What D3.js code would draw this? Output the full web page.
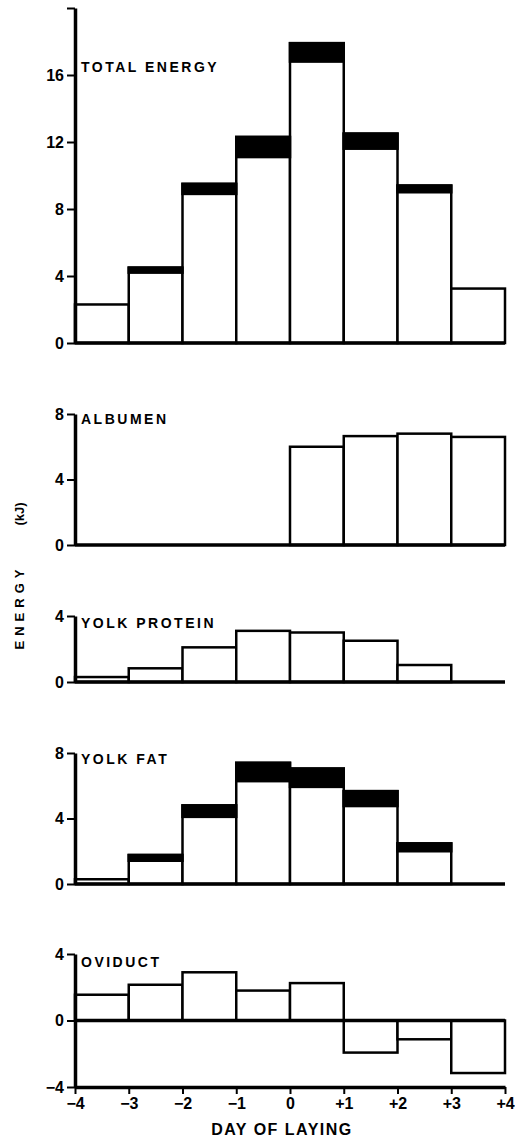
<!DOCTYPE html>
<html>
<head>
<meta charset="utf-8">
<script src="https://cdn.jsdelivr.net/npm/d3@7"></script>
<style>
  body { margin: 0; background: #fff; }
  text { font-family: "Liberation Sans", Arial, sans-serif; font-weight: bold; fill: #000; }
  .tick text { font-size: 16px; }
  .panel-title { font-size: 14px; letter-spacing: 2.5px; }
</style>
</head>
<body>
<div id="chart"></div>
<script>
// day bins, -4..+4 (bar i spans days[i] .. days[i+1])
var days = [-4, -3, -2, -1, 0, 1, 2, 3, 4]

// total energy: open part and black cap on top (kJ)
var totalOpen = [2.3, 4.2, 8.9, 11.1, 16.8, 11.6, 9.0, 3.25]
var totalCap = [0, 0.3, 0.6, 1.2, 1.1, 0.9, 0.4, 0]

var albumen = [0, 0, 0, 0, 6.0, 6.65, 6.8, 6.6]
var yolkProtein = [0.3, 0.83, 2.1, 3.1, 3.0, 2.5, 1.03, 0]

var yolkFatOpen = [0.29, 1.42, 4.1, 6.28, 5.93, 4.76, 2.0, 0]
var yolkFatCap = [0, 0.35, 0.7, 1.12, 1.12, 0.91, 0.48, 0]

var oviduct = [1.55, 2.15, 2.9, 1.8, 2.25, -1.93, -1.13, -3.16]

// panel layout
var panels = [
  {title: "TOTAL ENERGY", open: totalOpen, cap: totalCap, domain: [0, 20], range: [343, 8], ticks: [0, 4, 8, 12, 16, 20], titleY: 72},
  {title: "ALBUMEN", open: albumen, cap: null, domain: [0, 8], range: [545, 414], ticks: [0, 4, 8], titleY: 424},
  {title: "YOLK PROTEIN", open: yolkProtein, cap: null, domain: [0, 4], range: [682, 616], ticks: [0, 4], titleY: 628},
  {title: "YOLK FAT", open: yolkFatOpen, cap: yolkFatCap, domain: [0, 8], range: [884, 753], ticks: [0, 4, 8], titleY: 764},
  {title: "OVIDUCT", open: oviduct, cap: null, domain: [-4, 4], range: [1087, 954], ticks: [-4, 0, 4], titleY: 967}
]

var width = 515, height = 1139
var svg = d3.select("#chart").append("svg")
    .attr("width", width)
    .attr("height", height)

var x = d3.scaleLinear().domain([-4, 4]).range([75, 505])
var minus = "\u2212"

panels.forEach(function(p, pi){
  var y = d3.scaleLinear().domain(p.domain).range(p.range)
  var g = svg.append("g").attr("class", "panel")

  // build bar records
  var bars = p.open.map(function(v, i){
    return {
      x0: days[i], x1: days[i + 1],
      open: v,
      total: v + (p.cap ? p.cap[i] : 0)
    }
  }).filter(function(d){ return d.total !== 0 })

  // outlined bars
  g.selectAll(".bar")
      .data(bars)
    .enter().append("rect")
      .attr("class", "bar")
      .attr("x", function(d){ return x(d.x0) })
      .attr("width", function(d){ return x(d.x1) - x(d.x0) })
      .attr("y", function(d){ return Math.min(y(d.total), y(0)) })
      .attr("height", function(d){ return Math.abs(y(0) - y(d.total)) })
      .attr("fill", "#fff")
      .attr("stroke", "#000")
      .attr("stroke-width", 2.5)

  // black caps
  if (p.cap){
    g.selectAll(".cap")
        .data(bars.filter(function(d){ return d.total > d.open }))
      .enter().append("rect")
        .attr("class", "cap")
        .attr("x", function(d){ return x(d.x0) })
        .attr("width", function(d){ return x(d.x1) - x(d.x0) })
        .attr("y", function(d){ return y(d.total) })
        .attr("height", function(d){ return y(d.open) - y(d.total) })
        .attr("fill", "#000")
        .attr("stroke", "#000")
        .attr("stroke-width", 2.5)
  }

  // zero line
  g.append("line")
      .attr("x1", x(-4)).attr("x2", x(4))
      .attr("y1", y(0)).attr("y2", y(0))
      .attr("stroke", "#000")
      .attr("stroke-width", 3.5)

  // y axis
  var yAxis = d3.axisLeft(y)
      .tickValues(p.ticks)
      .tickSize(8)
      .tickSizeOuter(0)
      .tickPadding(3)
      .tickFormat(function(d){
        if (d === 20) return ""
        return d < 0 ? minus + Math.abs(d) : String(d)
      })
  var ya = g.append("g")
      .attr("transform", "translate(" + x(-4) + ",0)")
      .call(yAxis)
  ya.select(".domain").attr("stroke-width", 3.5)
  ya.selectAll(".tick line").attr("stroke-width", 2)
  ya.attr("font-family", null).attr("font-size", null)

  // panel title
  g.append("text")
      .attr("class", "panel-title")
      .attr("x", x(-4) + 6)
      .attr("y", p.titleY)
      .text(p.title)

  // bottom axis for the last panel
  if (pi === panels.length - 1){
    var xAxis = d3.axisBottom(x)
        .tickValues(days)
        .tickSize(7)
        .tickSizeOuter(0)
        .tickPadding(4)
        .tickFormat(function(d){
          if (d > 0) return "+" + d
          if (d < 0) return minus + Math.abs(d)
          return "0"
        })
    var xa = g.append("g")
        .attr("transform", "translate(0," + y(-4) + ")")
        .call(xAxis)
    xa.select(".domain").attr("stroke-width", 3.5)
    xa.selectAll(".tick line").attr("stroke-width", 2)
    xa.attr("font-family", null).attr("font-size", null)

    svg.append("text")
        .attr("x", 282)
        .attr("y", 1135)
        .attr("text-anchor", "middle")
        .style("font-size", "16px")
        .style("letter-spacing", "1.5px")
        .text("DAY OF LAYING")
  }
})

// shared y label
svg.append("text")
    .attr("transform", "translate(24,607) rotate(-90)")
    .attr("text-anchor", "middle")
    .style("font-size", "13px")
    .style("letter-spacing", "5px")
    .text("ENERGY")

svg.append("text")
    .attr("transform", "translate(24,514) rotate(-90)")
    .attr("text-anchor", "middle")
    .style("font-size", "13px")
    .text("(kJ)")
</script>
</body>
</html>
